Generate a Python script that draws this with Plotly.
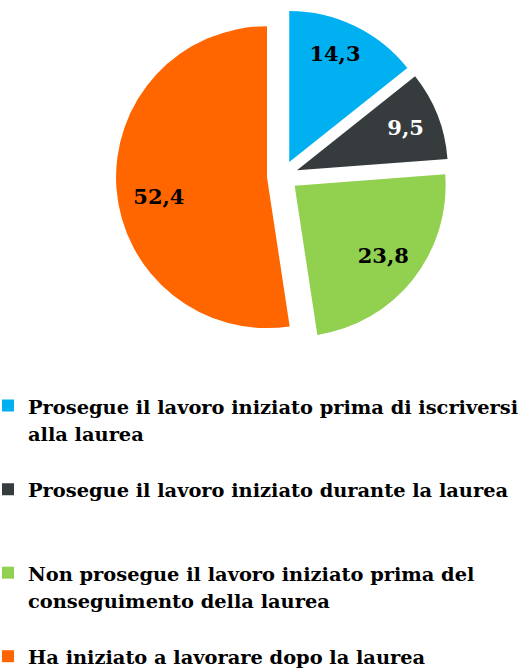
import plotly.graph_objects as go

labels = [
    'Prosegue il lavoro iniziato prima di iscriversi<br>alla laurea',
    'Prosegue il lavoro iniziato durante la laurea',
    'Non prosegue il lavoro iniziato prima del<br>conseguimento della laurea',
    'Ha iniziato a lavorare dopo la laurea',
]
values = [14.3, 9.5, 23.8, 52.4]
colors = ['#00B0F0', '#363C3E', '#92D050', '#FF6600']
text_colors = ['black', 'white', 'black', 'black']

# padding lines so every legend entry takes the same height (3 lines each)
pad = ['<br> ', '<br> <br> ', '<br> ', '']
legend_labels = [
    '<span style="font-size:19.4px">' + lab + '</span>' + p
    for lab, p in zip(labels, pad)
]

# nudge the value labels inside the slices (nbsp / blank line padding)
nb = '&nbsp;'
templates = [
    '%{value:.1f}<br>' + nb,
    '%{value:.1f}',
    nb + '<br>' + nb * 5 + '%{value:.1f}',
    nb + '<br>' + '%{value:.1f}' + nb * 9,
]

fig = go.Figure(go.Pie(
    labels=legend_labels,
    values=values,
    sort=False,
    direction='clockwise',
    rotation=0,
    pull=0.103,
    marker=dict(colors=colors, line=dict(width=0)),
    texttemplate=templates,
    textposition='inside',
    insidetextorientation='horizontal',
    textfont=dict(family='DejaVu Serif', size=21, color=text_colors, weight='bold'),
    hoverinfo='label+value',
    domain=dict(x=[116 / 528, 449 / 528], y=[1 - 342.5 / 669, 1 - 9.5 / 669]),
))

fig.update_layout(
    width=528,
    height=669,
    separators=',.',
    margin=dict(l=0, r=0, t=0, b=0, autoexpand=False),
    paper_bgcolor='white',
    plot_bgcolor='white',
    showlegend=True,
    legend=dict(
        orientation='v',
        x=-12 / 528,
        xanchor='left',
        y=0.4235,
        yanchor='top',
        valign='top',
        bgcolor='rgba(0,0,0,0)',
        font=dict(family='DejaVu Serif', size=20.65, color='black', weight='bold'),
    ),
)

fig.write_html('out.html', config={'displayModeBar': False},
               post_script="document.body.style.margin = '0';")
